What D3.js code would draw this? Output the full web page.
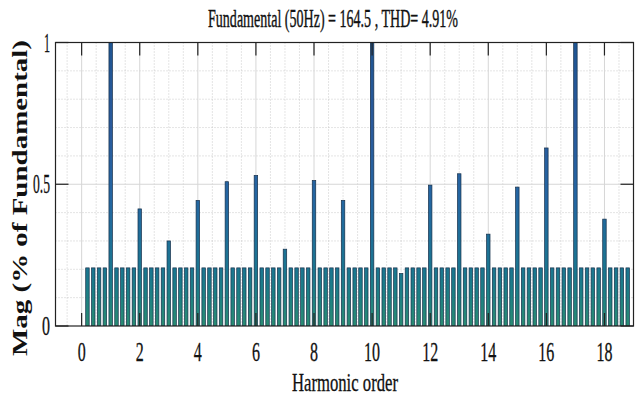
<!DOCTYPE html>
<html>
<head>
<meta charset="utf-8">
<script src="https://cdn.jsdelivr.net/npm/d3@7"></script>
<style>
  body { margin: 0; background: #fff; }
  svg { display: block; }
  text { font-family: "Liberation Serif", "Times New Roman", serif; fill: #111; }
</style>
</head>
<body>
<svg id="chart" width="638" height="405"></svg>
<script>
// frequency bins in harmonic order (10 Hz resolution, 50 Hz fundamental)
const binOrders = [
  0.2, 0.4, 0.6, 0.8, 1,
  1.2, 1.4, 1.6, 1.8, 2,
  2.2, 2.4, 2.6, 2.8, 3,
  3.2, 3.4, 3.6, 3.8, 4,
  4.2, 4.4, 4.6, 4.8, 5,
  5.2, 5.4, 5.6, 5.8, 6,
  6.2, 6.4, 6.6, 6.8, 7,
  7.2, 7.4, 7.6, 7.8, 8,
  8.2, 8.4, 8.6, 8.8, 9,
  9.2, 9.4, 9.6, 9.8, 10,
  10.2, 10.4, 10.6, 10.8, 11,
  11.2, 11.4, 11.6, 11.8, 12,
  12.2, 12.4, 12.6, 12.8, 13,
  13.2, 13.4, 13.6, 13.8, 14,
  14.2, 14.4, 14.6, 14.8, 15,
  15.2, 15.4, 15.6, 15.8, 16,
  16.2, 16.4, 16.6, 16.8, 17,
  17.2, 17.4, 17.6, 17.8, 18,
  18.2, 18.4, 18.6, 18.8
];
// magnitude, % of fundamental (values above 1 are clipped by the axis)
const binMags = [
  0.205, 0.205, 0.205, 0.205, 100,
  0.205, 0.205, 0.205, 0.205, 0.413,
  0.205, 0.205, 0.205, 0.205, 0.30,
  0.205, 0.205, 0.205, 0.205, 0.443,
  0.205, 0.205, 0.205, 0.205, 0.509,
  0.205, 0.205, 0.205, 0.205, 0.531,
  0.205, 0.205, 0.205, 0.205, 0.271,
  0.205, 0.205, 0.205, 0.205, 0.513,
  0.205, 0.205, 0.205, 0.205, 0.443,
  0.205, 0.205, 0.205, 0.205, 1.2,
  0.205, 0.205, 0.205, 0.205, 0.185,
  0.205, 0.205, 0.205, 0.205, 0.497,
  0.205, 0.205, 0.205, 0.205, 0.537,
  0.205, 0.205, 0.205, 0.205, 0.324,
  0.205, 0.205, 0.205, 0.205, 0.49,
  0.205, 0.205, 0.205, 0.205, 0.628,
  0.205, 0.205, 0.205, 0.205, 1.2,
  0.205, 0.205, 0.205, 0.205, 0.377,
  0.205, 0.205, 0.205, 0.205
];
const xTicks = [0, 2, 4, 6, 8, 10, 12, 14, 16, 18];
const yTicks = [0, 0.5, 1];
const yTickLabels = ["0", "0.5", "1"];
const titleText = "Fundamental (50Hz) = 164.5 , THD= 4.91%";
const xLabel = "Harmonic order";
const yLabel = "Mag (% of Fundamental)";

const data = binOrders.map((x, i) => ({ x: x, y: binMags[i] }));

const svg = d3.select("#chart");
const pLeft = 55.5, pRight = 633.5, pTop = 42.5, pBottom = 326;

const x = d3.scaleLinear().domain([-0.9, 19]).range([pLeft, pRight]);
const y = d3.scaleLinear().domain([0, 1]).range([pBottom, pTop]);

// grid
const grid = svg.append("g");
const minorX = d3.range(-0.5, 19, 0.5).filter((v) => v % 2 !== 0);
const minorY = d3.range(0.1, 1, 0.1).filter((v) => Math.abs(v - 0.5) > 0.01);
grid.selectAll(".mx").data(minorX).enter().append("line")
  .attr("x1", (d) => x(d)).attr("x2", (d) => x(d))
  .attr("y1", pTop).attr("y2", pBottom)
  .attr("stroke", "#bdbdbd").attr("stroke-width", 0.8).attr("stroke-dasharray", "1,2");
grid.selectAll(".my").data(minorY).enter().append("line")
  .attr("x1", pLeft).attr("x2", pRight)
  .attr("y1", (d) => y(d)).attr("y2", (d) => y(d))
  .attr("stroke", "#bdbdbd").attr("stroke-width", 0.8).attr("stroke-dasharray", "1,2");
grid.selectAll(".Mx").data(xTicks).enter().append("line")
  .attr("x1", (d) => x(d)).attr("x2", (d) => x(d))
  .attr("y1", pTop).attr("y2", pBottom)
  .attr("stroke", "#d6d6d6").attr("stroke-width", 1);
grid.append("line")
  .attr("x1", pLeft).attr("x2", pRight)
  .attr("y1", y(0.5)).attr("y2", y(0.5))
  .attr("stroke", "#d6d6d6").attr("stroke-width", 1);

// bar colour gradient
const defs = svg.append("defs");
const grad = defs.append("linearGradient").attr("id", "barGrad")
  .attr("gradientUnits", "userSpaceOnUse")
  .attr("x1", 0).attr("x2", 0).attr("y1", y(0)).attr("y2", y(1));
[
  [0, "#2a8c72"], [0.12, "#1c7f86"], [0.2, "#1b7690"],
  [0.45, "#2466a2"], [0.7, "#2a5a9c"], [1, "#1f5592"]
].forEach(([o, c]) => grad.append("stop").attr("offset", o).attr("stop-color", c));

defs.append("clipPath").attr("id", "plotClip").append("rect")
  .attr("x", pLeft).attr("y", pTop).attr("width", pRight - pLeft).attr("height", pBottom - pTop);

const barW = x(0.12) - x(0);
svg.append("g").attr("clip-path", "url(#plotClip)")
  .selectAll("rect").data(data).enter().append("rect")
  .attr("x", (d) => x(d.x) - barW / 2)
  .attr("y", (d) => y(Math.min(d.y, 1.05)))
  .attr("width", barW)
  .attr("height", (d) => y(0) - y(Math.min(d.y, 1.05)))
  .attr("fill", "url(#barGrad)")
  .attr("stroke", "#17304a").attr("stroke-width", 0.7);

// axes box with inward ticks
const tickLen = 13;
const frame = svg.append("g").attr("stroke", "#222").attr("stroke-width", 1.2);
frame.append("rect").attr("x", pLeft).attr("y", pTop)
  .attr("width", pRight - pLeft).attr("height", pBottom - pTop).attr("fill", "none");
xTicks.forEach((t) => {
  frame.append("line").attr("x1", x(t)).attr("x2", x(t)).attr("y1", pBottom).attr("y2", pBottom - tickLen);
  frame.append("line").attr("x1", x(t)).attr("x2", x(t)).attr("y1", pTop).attr("y2", pTop + tickLen);
});
yTicks.forEach((t) => {
  frame.append("line").attr("x1", pLeft).attr("x2", pLeft + tickLen).attr("y1", y(t)).attr("y2", y(t));
  frame.append("line").attr("x1", pRight).attr("x2", pRight - tickLen).attr("y1", y(t)).attr("y2", y(t));
});

// tick labels (condensed serif)
svg.selectAll(".xt").data(xTicks).enter().append("text")
  .attr("x", (d) => x(d)).attr("y", 361)
  .attr("text-anchor", "middle").attr("font-size", 27)
  .attr("stroke", "#111").attr("stroke-width", 0.3)
  .attr("textLength", (d) => String(d).length * 8)
  .attr("lengthAdjust", "spacingAndGlyphs")
  .text((d) => d);

svg.selectAll(".yt").data(yTicks).enter().append("text")
  .attr("x", 50).attr("y", (d) => y(d) + 9)
  .attr("text-anchor", "end").attr("font-size", 27)
  .attr("stroke", "#111").attr("stroke-width", 0.3)
  .attr("textLength", (d, i) => yTickLabels[i] === "0.5" ? 17 : yTickLabels[i] === "1" ? 6 : 8)
  .attr("lengthAdjust", "spacingAndGlyphs")
  .text((d, i) => yTickLabels[i]);

// title and axis labels
svg.append("text")
  .attr("x", 333).attr("y", 27).attr("text-anchor", "middle")
  .attr("font-size", 25).attr("stroke", "#111").attr("stroke-width", 0.4)
  .attr("textLength", 250).attr("lengthAdjust", "spacingAndGlyphs")
  .text(titleText);

svg.append("text")
  .attr("x", 345).attr("y", 391).attr("text-anchor", "middle")
  .attr("font-size", 25).attr("stroke", "#111").attr("stroke-width", 0.3)
  .attr("textLength", 106).attr("lengthAdjust", "spacingAndGlyphs")
  .text(xLabel);

svg.append("text")
  .attr("transform", "translate(27, 198) rotate(-90)")
  .attr("text-anchor", "middle").attr("font-weight", "bold")
  .attr("font-size", 21).attr("textLength", 316).attr("lengthAdjust", "spacingAndGlyphs")
  .text(yLabel);
</script>
</body>
</html>
